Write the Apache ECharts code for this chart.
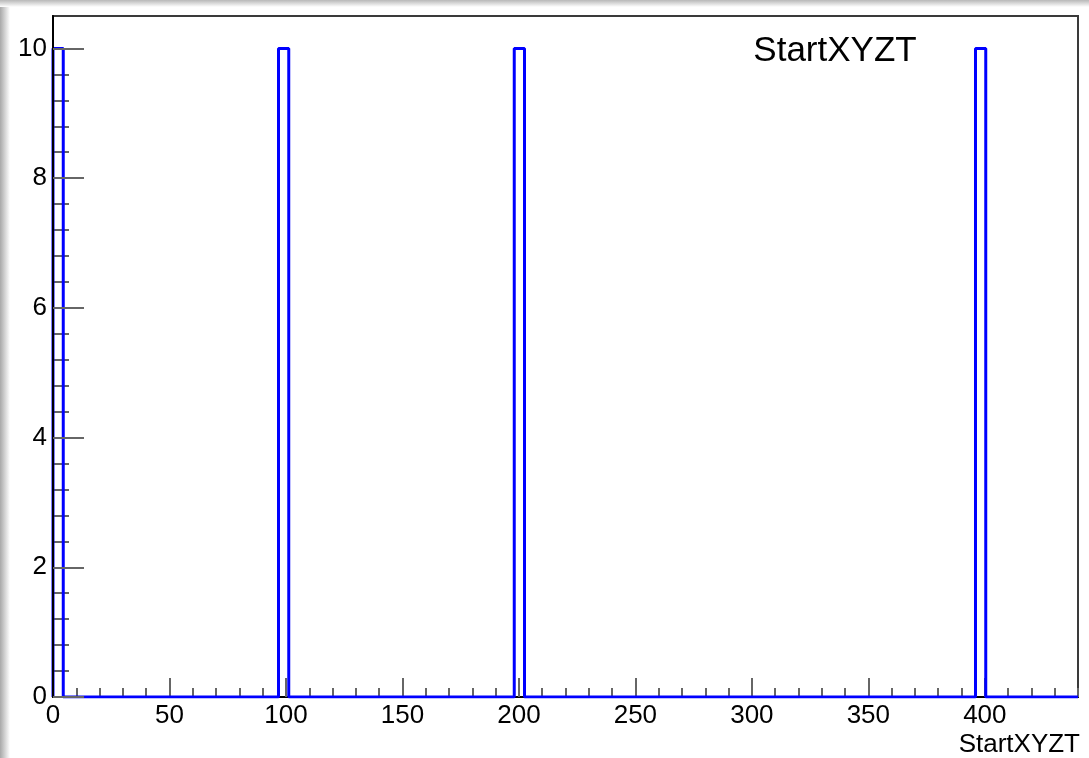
<!DOCTYPE html>
<html>
<head>
<meta charset="utf-8">
<script src="https://cdn.jsdelivr.net/npm/echarts@6/dist/echarts.min.js"></script>
<style>
html,body{margin:0;padding:0;background:#fff;}
#chart{width:1089px;height:758px;}
</style>
</head>
<body>
<div id="chart"></div>
<script>
// ---- data ----
const histTitle = 'StartXYZT';
const xAxisTitle = 'StartXYZT';
const xMin = 0, xMax = 440;          // histogram range
const binWidth = 4.4;                // 100 bins over 0..440
const binLowEdges = [0, 96.8, 198.0, 396.0];   // filled bins (lower edges)
const binCounts   = [10, 10, 10, 10];          // entries in those bins
const yMin = 0, yMax = 10.5;
const xMajorTicks = [0, 50, 100, 150, 200, 250, 300, 350, 400];
const yMajorTicks = [0, 2, 4, 6, 8, 10];
const xMinorStep = 10;
const yMinorStep = 0.4;

// ---- build step outline from the bins ----
const outline = [[xMin, 0]];
binLowEdges.forEach((lo, i) => {
  outline.push([lo, binCounts[i]]);
  outline.push([+(lo + binWidth).toFixed(4), 0]);
});
outline.push([xMax, 0]);

function minors(lo, hi, step, majors) {
  const out = [];
  const n = Math.round((hi - lo) / step);
  for (let k = 0; k <= n; k++) {
    const v = +(lo + k * step).toFixed(4);
    if (!majors.some(m => Math.abs(m - v) < 1e-6)) out.push(v);
  }
  return out;
}
const xMinorTicks = minors(xMin, xMax, xMinorStep, xMajorTicks);
const yMinorTicks = minors(yMin, 10, yMinorStep, yMajorTicks);

const FONT = '"Liberation Sans", Arial, Helvetica, sans-serif';
const chart = echarts.init(document.getElementById('chart'), null, {renderer: 'canvas'});

chart.setOption({
  animation: false,
  backgroundColor: '#ffffff',
  grid: {
    left: 53, right: 11, top: 16, bottom: 61,
    show: true, borderColor: '#3a3a3a', borderWidth: 2, backgroundColor: 'transparent'
  },
  graphic: [
    { type: 'rect', left: 0, top: 0, z: -10, silent: true,
      shape: {width: 10, height: 758},
      style: {fill: new echarts.graphic.LinearGradient(0, 0, 1, 0, [
        {offset: 0, color: '#a8a8a8'}, {offset: 1, color: '#ffffff'}])} },
    { type: 'rect', left: 0, top: 0, z: -10, silent: true,
      shape: {width: 1089, height: 7},
      style: {fill: new echarts.graphic.LinearGradient(0, 0, 0, 1, [
        {offset: 0, color: '#b8b8b8'}, {offset: 1, color: '#ffffff'}])} },
    { type: 'text', x: 835, y: 51, z: 10,
      style: {text: histTitle, font: '35px ' + FONT, fill: '#000',
              align: 'center', verticalAlign: 'middle'} },
    { type: 'text', x: 1080, y: 745, z: 10,
      style: {text: xAxisTitle, font: '26px ' + FONT, fill: '#000',
              align: 'right', verticalAlign: 'middle'} }
  ],
  xAxis: [
    { type: 'value', min: xMin, max: xMax, position: 'bottom',
      axisLine: {show: true, onZero: false, lineStyle: {color: '#000', width: 2}},
      axisTick: {show: true, inside: true, length: 19, customValues: xMajorTicks,
                 lineStyle: {color: '#666', width: 2}},
      axisLabel: {show: true, customValues: xMajorTicks, margin: 6,
                  color: '#000', fontSize: 26, fontFamily: FONT},
      splitLine: {show: false} },
    { type: 'value', min: xMin, max: xMax, position: 'bottom',
      axisLine: {show: false},
      axisTick: {show: true, inside: true, length: 9, customValues: xMinorTicks,
                 lineStyle: {color: '#666', width: 2}},
      axisLabel: {show: false},
      splitLine: {show: false} }
  ],
  yAxis: [
    { type: 'value', min: yMin, max: yMax, position: 'left', z: 8,
      axisLine: {show: true, onZero: false, lineStyle: {color: '#000', width: 2}},
      axisTick: {show: true, inside: true, length: 31, customValues: yMajorTicks,
                 lineStyle: {color: '#666', width: 2}},
      axisLabel: {show: true, customValues: yMajorTicks, margin: 6,
                  color: '#000', fontSize: 26, fontFamily: FONT},
      splitLine: {show: false} },
    { type: 'value', min: yMin, max: yMax, position: 'left',
      axisLine: {show: false},
      axisTick: {show: true, inside: true, length: 16, customValues: yMinorTicks,
                 lineStyle: {color: '#666', width: 2}},
      axisLabel: {show: false},
      splitLine: {show: false} }
  ],
  series: [
    { type: 'line', xAxisIndex: 0, yAxisIndex: 0, data: outline,
      step: 'end', showSymbol: false, symbol: 'none', clip: true,
      lineStyle: {color: '#0000ff', width: 3}, z: 5 }
  ]
});
</script>
</body>
</html>
